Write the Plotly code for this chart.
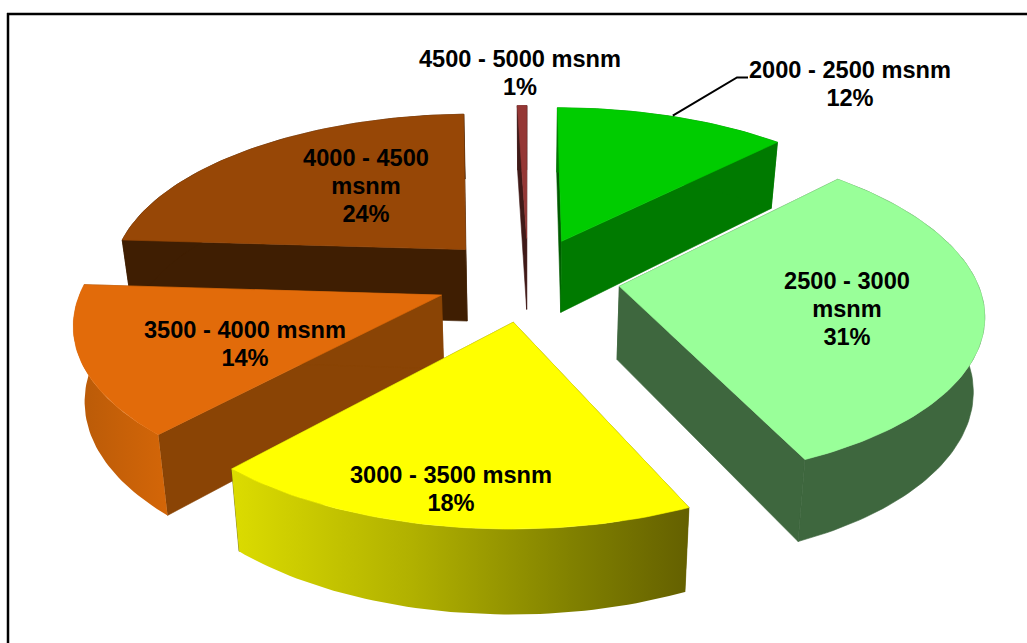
import math
import plotly.graph_objects as go

# Share of surface per altitude band (labels show these rounded)
categories = ["2000 - 2500 msnm", "2500 - 3000 msnm", "3000 - 3500 msnm",
              "3500 - 4000 msnm", "4000 - 4500 msnm", "4500 - 5000 msnm"]
values = [12.3, 30.9, 18.5, 14.3, 23.5, 0.5]

top_colors = ["#00cc00", "#99ff99", "#ffff00", "#e26b0a", "#974706", "#953735"]
start_wall_colors = ["#005c00", "#3e673e", "#666000", "#8a4405", "#3f1e02", "#401a18"]
end_wall_colors = ["#007a00", "#3e673e", "#666000", "#8a4405", "#3f1e02", "#401a18"]
rim_colors = ["#007a00", "#3e673e", None, None, "#3f1e02", "#401a18"]
rim_gradients = {
    2: [[0, "#dcdc00"], [0.4, "#b0b000"], [0.75, "#808000"], [1, "#646000"]],
    3: [[0, "#b85a08"], [1, "#d46608"]],
}
paint_order = [4, 5, 0, 1, 3, 2]

# Which label breaks before "msnm", and where each label block is centred
wrap_unit = [False, True, False, False, True, False]
label_centres = [(850, 86), (847, 311), (451, 491), (245, 346), (366, 188), (520, 75)]
LINE_STEP = 28
FONT_SIZE = 23.6

# Perspective projection of the pie plane
CX, CY = 528, 279
SCALE_X, SCALE_Y = 357, 163
PERSPECTIVE = 0.145
EXPLODE = 0.258
BOTTOM_SHRINK = 0.975
DEPTH, DEPTH_GROW, DEPTH_REF = 71, 0.05, 240


def project(x, y):
    w = 1 + PERSPECTIVE * y
    return CX + SCALE_X * x / w, CY - SCALE_Y * y / w


def lower(p):
    return (CX + (p[0] - CX) * BOTTOM_SHRINK,
            p[1] + DEPTH + DEPTH_GROW * (p[1] - DEPTH_REF))


def polar(angle, ox, oy, r=1.0):
    return project(ox + r * math.sin(angle), oy + r * math.cos(angle))


def polygon(points, color=None, scale=None):
    xs = [p[0] for p in points] + [points[0][0]]
    ys = [p[1] for p in points] + [points[0][1]]
    style = dict(x=xs, y=ys, mode="lines", fill="toself",
                 hoverinfo="skip", showlegend=False)
    if scale:
        style["line"] = dict(width=0)
        style["fillgradient"] = dict(type="horizontal", colorscale=scale,
                                     start=min(xs), stop=max(xs))
    else:
        # A hairline in the fill colour closes the seams between faces
        style["line"] = dict(width=0.6, color=color)
        style["fillcolor"] = color
    return go.Scatter(**style)


fig = go.Figure()
total = sum(values)
bounds = [0.0]
for v in values:
    bounds.append(bounds[-1] + 2 * math.pi * v / total)

for i in paint_order:
    a0, a1 = bounds[i], bounds[i + 1]
    mid = (a0 + a1) / 2
    ox, oy = EXPLODE * math.sin(mid), EXPLODE * math.cos(mid)
    n = max(4, int(values[i] * 3))
    arc = [polar(a0 + (a1 - a0) * k / n, ox, oy) for k in range(n + 1)]
    apex = project(ox, oy)

    # Cut faces first, then the curved rim, then the top face
    fig.add_trace(polygon([apex, arc[0], lower(arc[0]), lower(apex)], start_wall_colors[i]))
    fig.add_trace(polygon([apex, arc[-1], lower(arc[-1]), lower(apex)], end_wall_colors[i]))
    fig.add_trace(polygon(arc + [lower(p) for p in reversed(arc)],
                          rim_colors[i], rim_gradients.get(i)))
    fig.add_trace(polygon([apex] + arc, top_colors[i]))

# Leader from the first slice's rim to its label
mid0 = (bounds[0] + bounds[1]) / 2
rim_pt = polar(mid0, EXPLODE * math.sin(mid0), EXPLODE * math.cos(mid0))
fig.add_trace(go.Scatter(x=[rim_pt[0], 737, 748], y=[rim_pt[1] - 1, 77.5, 77.5], mode="lines",
                         line=dict(color="black", width=2), hoverinfo="skip", showlegend=False))

# Labels: one text point per line so the leading stays tight
tx, ty, tt = [], [], []
for cat, val, wrap, (cx, cy) in zip(categories, values, wrap_unit, label_centres):
    pct = f"{max(round(val), 1)}%"
    if wrap:
        band, unit = cat.rsplit(" ", 1)
        lines = [band, unit, pct]
    else:
        lines = [cat, pct]
    for k, line in enumerate(lines):
        tx.append(cx)
        ty.append(cy + (k - (len(lines) - 1) / 2) * LINE_STEP)
        tt.append(f"<b>{line}</b>")
fig.add_trace(go.Scatter(x=tx, y=ty, text=tt, mode="text", textposition="middle center",
                         textfont=dict(family="Liberation Sans", size=FONT_SIZE, color="black"),
                         hoverinfo="skip", showlegend=False))

fig.update_layout(
    width=1027, height=643, margin=dict(l=0, r=0, t=0, b=0),
    paper_bgcolor="white", plot_bgcolor="white",
    xaxis=dict(range=[0, 1027], visible=False, fixedrange=True),
    yaxis=dict(range=[643, 0], visible=False, fixedrange=True),
    shapes=[
        dict(type="line", xref="paper", yref="paper", x0=8 / 1027, x1=8 / 1027, y0=0, y1=1 - 13 / 643,
             line=dict(color="black", width=2.5)),
        dict(type="line", xref="paper", yref="paper", x0=7 / 1027, x1=1, y0=1 - 14 / 643, y1=1 - 14 / 643,
             line=dict(color="black", width=2.5)),
    ],
)
fig.write_html("out.html")
